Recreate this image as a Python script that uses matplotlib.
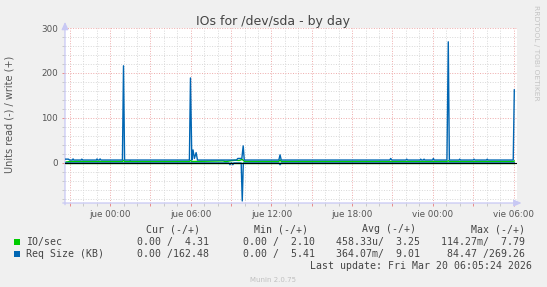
import matplotlib
matplotlib.use("Agg")
import matplotlib.pyplot as plt
from matplotlib.ticker import MultipleLocator, FuncFormatter

# ---------------- data (hours relative to "jue 00:00") ----------------
req_write_t = [-3.35, -3.1, -3.0, -2.8, -2.75, -2.7, -2.15, -2.1, -2.05, -1.0, -0.97, -0.9,
               -0.8, -0.74, -0.68, 0.92, 1.0, 1.08, 5.9, 5.98, 6.08, 6.17, 6.27, 6.4, 6.5,
               9.4, 9.5, 9.8, 9.9, 9.98, 12.55, 12.64, 12.73, 20.8, 20.87, 20.95, 22.0, 22.06,
               22.12, 23.05, 23.1, 23.15, 23.3, 23.35, 23.4, 23.98, 24.04, 24.1, 25.05, 25.15,
               25.23, 25.95, 26.0, 26.05, 27.0, 27.06, 27.12, 28.0, 28.05, 28.1, 29.98, 30.06]
req_write_v = [8.5, 8.5, 6.5, 6.5, 9, 6.5, 6.5, 8.5, 6.5, 6.5, 9, 6.5,
               6.5, 9, 6.5, 6.5, 216, 6.5, 6.5, 189, 6.5, 29, 10, 23, 6.5,
               6.5, 10, 10, 38, 6.5, 6.5, 18, 6.5, 6.5, 10, 6.5, 6.5, 8.5,
               6.5, 6.5, 8.5, 6.5, 6.5, 8.5, 6.5, 6.5, 10, 6.5, 6.5, 269.3,
               6.5, 6.5, 8.5, 6.5, 6.5, 8.5, 6.5, 6.5, 8.5, 6.5, 6.5, 162.5]

req_read_t = [-3.35, 8.85, 8.92, 8.99, 9.06, 9.13, 9.2, 9.75, 9.83, 9.91, 12.56, 12.64, 12.72, 30.06]
req_read_v = [0, 0, 4, 0, 0, 4, 0, 0, 84.47, 0, 0, 4, 0, 0]

io_write_t = [-3.35, -3.2, -3.0, -2.7, 0.92, 1.0, 1.08, 1.45, 1.5, 1.55, 5.9, 5.98, 6.08,
              8.4, 8.6, 9.0, 9.3, 9.6, 9.83, 10.0, 12.55, 12.64, 12.73, 25.05, 25.15, 25.23,
              29.98, 30.06]
io_write_v = [2.3, 2.3, 3.3, 3.3, 3.3, 6.0, 3.3, 3.3, 5.0, 3.3, 3.3, 5.5, 3.3,
              4.5, 3.0, 5.0, 6.0, 5.5, 7.8, 3.3, 3.3, 7.0, 3.3, 3.3, 5.0, 3.3,
              3.3, 4.31]

io_read_t = [-3.35, 30.06]
io_read_v = [0, 0]

legend_rows = ["IO/sec", "Req Size (KB)"]
col_headers = ["Cur (-/+)", "Min (-/+)", "Avg (-/+)", "Max (-/+)"]
col_values = [
    ["0.00 /  4.31", "0.00 /  2.10", "458.33u/  3.25", "114.27m/  7.79"],
    ["0.00 /162.48", "0.00 /  5.41", "364.07m/  9.01", " 84.47 /269.26"],
]
xtick_names = {0: "jue 00:00", 6: "jue 06:00", 12: "jue 12:00",
               18: "jue 18:00", 24: "vie 00:00", 30: "vie 06:00"}

# ---------------- styling ----------------
GREEN = "#00CC00"
BLUE = "#0066B3"
W, H = 547, 287
fig = plt.figure(figsize=(W / 100, H / 100), dpi=100, facecolor="#F0F0F0")

L, R, T, B = 65, 517, 28, 203
ax = fig.add_axes([L / W, 1 - B / H, (R - L) / W, (B - T) / H])
ax.set_facecolor("white")
ax.set_xlim(-3.35, 30.26)
ax.set_ylim(-89, 300)

for s in ax.spines.values():
    s.set_visible(False)

ax.xaxis.set_major_locator(MultipleLocator(3))
ax.xaxis.set_minor_locator(MultipleLocator(1))
ax.yaxis.set_major_locator(MultipleLocator(100))
ax.yaxis.set_minor_locator(MultipleLocator(20))
ax.xaxis.set_major_formatter(FuncFormatter(lambda v, p: xtick_names.get(int(round(v)), "") if abs(v - round(v)) < 1e-6 else ""))
ax.yaxis.set_major_formatter(FuncFormatter(lambda v, p: "%d" % v if v >= 0 else ""))

ax.grid(which="minor", color="#d8d8d8", linestyle=(0, (1, 1.6)), linewidth=0.7)
ax.grid(which="major", color="#eeaaaa", linestyle=(0, (1, 1.6)), linewidth=0.7)
ax.set_axisbelow(True)

ax.tick_params(which="both", direction="out", length=2.2, width=0.7, pad=3,
               labelsize=6.3, labelcolor="#555555")
ax.tick_params(which="major", color="#e88a8a")
ax.tick_params(which="minor", color="#c8c8c8")

# data lines
ax.plot(io_write_t, io_write_v, color=GREEN, lw=1.0, zorder=3)
ax.plot(io_read_t, [-v for v in io_read_v], color=GREEN, lw=1.0, zorder=3)
ax.plot(req_write_t, req_write_v, color=BLUE, lw=1.0, zorder=4)
ax.plot(req_read_t, [-v for v in req_read_v], color=BLUE, lw=1.0, zorder=4)
ax.axhline(0, color="black", lw=0.8, zorder=5)

# axes with arrows
axc = "#c8c8f4"
ax.annotate("", xy=(0, 1.035), xytext=(0, -0.01), xycoords="axes fraction",
            arrowprops=dict(arrowstyle="-|>,head_length=0.45,head_width=0.2", color=axc, lw=0.9,
                            shrinkA=0, shrinkB=0), annotation_clip=False)
ax.annotate("", xy=(1.01, 0), xytext=(-0.005, 0), xycoords="axes fraction",
            arrowprops=dict(arrowstyle="-|>,head_length=0.45,head_width=0.2", color=axc, lw=0.9,
                            shrinkA=0, shrinkB=0), annotation_clip=False)

# texts
def px(x, y):
    return x / W, 1 - y / H

fig.text(*px(273.5, 21), "IOs for /dev/sda - by day", ha="center", va="center",
         fontsize=9, color="#444444", family="DejaVu Sans")
fig.text(*px(10, 114), "Units read (-) / write (+)", rotation=90, ha="center", va="center",
         fontsize=7, color="#555555", family="DejaVu Sans")
fig.text(*px(536, 53), "RRDTOOL / TOBI OETIKER", rotation=270, ha="center", va="center",
         fontsize=5.4, color="#c4c4c4", family="DejaVu Sans")

mono = dict(family="DejaVu Sans Mono", fontsize=7.1, color="#444444", va="center")
hdr_right = [200, 308, 416, 525]
val_right = [209, 315, 420.5, 525]
for h, xr in zip(col_headers, hdr_right):
    fig.text(*px(xr, 229), h, ha="right", **mono)
row_y = [242, 254]
for name, vals, yy, col in zip(legend_rows, col_values, row_y, [GREEN, BLUE]):
    fig.patches.append(plt.Rectangle(px(14, yy + 3), 6 / W, 6 / H, transform=fig.transFigure,
                                     facecolor=col, edgecolor="none"))
    fig.text(*px(26, yy), name, ha="left", **mono)
    for v, xr in zip(vals, val_right):
        fig.text(*px(xr, yy), v, ha="right", **mono)
fig.text(*px(532, 266), "Last update: Fri Mar 20 06:05:24 2026", ha="right", **mono)
fig.text(*px(273, 280), "Munin 2.0.75", ha="center", va="center", fontsize=5,
         color="#c0c0c0", family="DejaVu Sans")

fig.savefig("out.png", dpi=100, facecolor=fig.get_facecolor())
